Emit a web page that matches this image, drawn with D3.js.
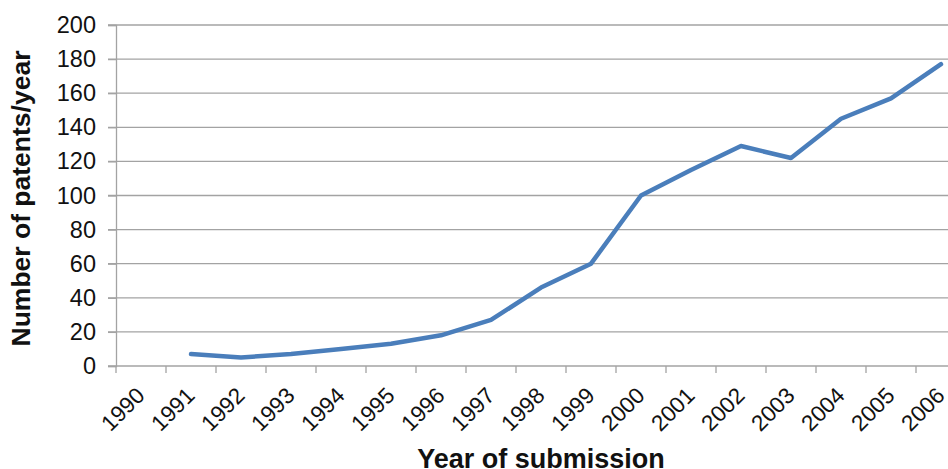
<!DOCTYPE html>
<html>
<head>
<meta charset="utf-8">
<script src="https://cdn.jsdelivr.net/npm/d3@7/dist/d3.min.js"></script>
<style>
  html, body { margin: 0; padding: 0; background: #fff; }
  svg { display: block; font-family: "Liberation Sans", Arial, sans-serif; }
</style>
</head>
<body>
<svg id="chart" width="948" height="469"></svg>
<script>
// Patent submissions per year
const years = ["1990","1991","1992","1993","1994","1995","1996","1997","1998",
               "1999","2000","2001","2002","2003","2004","2005","2006"];
const patents = [null, 7, 5, 7, 10, 13, 18, 27, 46, 60, 100, 115, 129, 122, 145, 157, 177];
const yTicks = [0, 20, 40, 60, 80, 100, 120, 140, 160, 180, 200];

const svg = d3.select("#chart");
const plotLeft = 116, plotRight = 966, plotTop = 25, plotBottom = 366;

const x = d3.scaleBand().domain(years).range([plotLeft, plotRight]).paddingInner(0).paddingOuter(0);
const y = d3.scaleLinear().domain([0, 200]).range([plotBottom, plotTop]);

const gridColor = "#a3a3a3";

// horizontal gridlines with outward ticks on the value axis
const grid = svg.append("g");
grid.selectAll("line").data(yTicks.filter(d => d > 0)).join("line")
  .attr("x1", plotLeft - 8).attr("x2", 948)
  .attr("y1", d => y(d)).attr("y2", d => y(d))
  .attr("stroke", gridColor).attr("stroke-width", 1.3);

// value axis
const yAxis = d3.axisLeft(y).tickValues(yTicks).tickSize(8).tickPadding(12);
const gy = svg.append("g").attr("transform", `translate(${plotLeft},0)`).call(yAxis);
gy.select(".domain").attr("stroke", gridColor).attr("stroke-width", 1.3);
gy.selectAll(".tick line").attr("stroke", gridColor).attr("stroke-width", 1.3);
gy.selectAll(".tick text").attr("font-size", 23.5).attr("fill", "#111")
  .attr("font-family", "Liberation Sans, Arial, sans-serif");

// category axis: ticks sit on band boundaries
const boundaries = years.map(d => x(d)).concat([x(years[years.length - 1]) + x.bandwidth()]);
svg.append("line").attr("x1", plotLeft - 8).attr("x2", 948)
  .attr("y1", plotBottom).attr("y2", plotBottom)
  .attr("stroke", gridColor).attr("stroke-width", 1.3);
svg.append("g").selectAll("line").data(boundaries).join("line")
  .attr("x1", d => d).attr("x2", d => d)
  .attr("y1", plotBottom).attr("y2", plotBottom + 7)
  .attr("stroke", gridColor).attr("stroke-width", 1.3);

svg.append("g").selectAll("text").data(years).join("text")
  .attr("transform", d => `translate(${x(d) + x.bandwidth() / 2 + 5},${plotBottom + 31}) rotate(-45)`)
  .attr("text-anchor", "end")
  .attr("font-size", 22.5)
  .attr("fill", "#111")
  .text(d => d);

// series line
const pts = years.map((d, i) => ({ year: d, value: patents[i] })).filter(p => p.value !== null);
const line = d3.line()
  .x(p => x(p.year) + x.bandwidth() / 2)
  .y(p => y(p.value));
svg.append("path").datum(pts)
  .attr("d", line)
  .attr("fill", "none")
  .attr("stroke", "#4a7ebb")
  .attr("stroke-width", 4.5)
  .attr("stroke-linejoin", "round")
  .attr("stroke-linecap", "round");

// axis titles
svg.append("text")
  .attr("transform", `translate(30,${(plotTop + plotBottom) / 2 + 3}) rotate(-90)`)
  .attr("text-anchor", "middle")
  .attr("font-size", 26.5).attr("font-weight", "bold").attr("fill", "#111")
  .text("Number of patents/year");

svg.append("text")
  .attr("x", (plotLeft + plotRight) / 2).attr("y", 468)
  .attr("text-anchor", "middle")
  .attr("font-size", 27).attr("font-weight", "bold").attr("fill", "#111")
  .text("Year of submission");
</script>
</body>
</html>
